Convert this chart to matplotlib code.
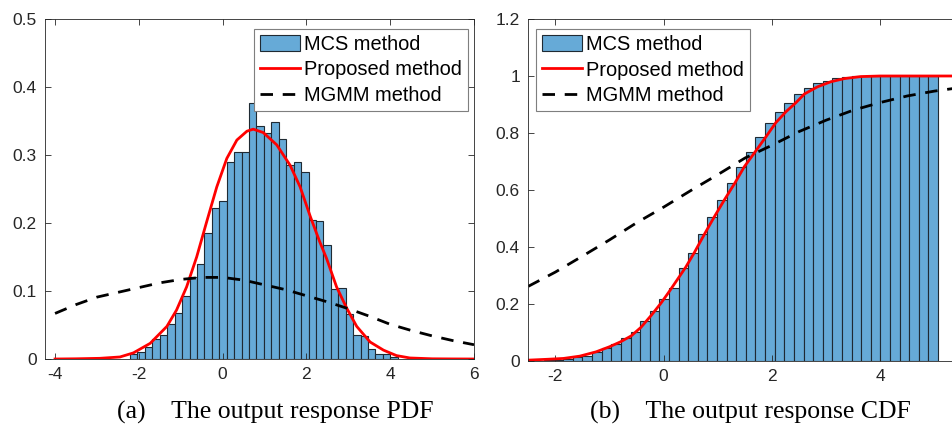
import numpy as np
import matplotlib.pyplot as plt

plt.rcParams['font.family'] = 'Liberation Sans'
plt.rcParams['axes.unicode_minus'] = False

# histogram bins shared by both panels
bin_start = -2.21
bin_width = 0.1775

# MCS histogram, pdf normalisation (one value per bin)
pdf_mcs = [0.008, 0.010, 0.018, 0.029, 0.036, 0.052, 0.068, 0.093, 0.120, 0.139,
           0.186, 0.222, 0.232, 0.290, 0.305, 0.304, 0.377, 0.342, 0.333, 0.348,
           0.323, 0.286, 0.289, 0.275, 0.204, 0.203, 0.168, 0.103, 0.105, 0.066,
           0.036, 0.034, 0.014, 0.008, 0.007, 0.003]

# MCS histogram, cdf normalisation
cdf_mcs = [0.002, 0.004, 0.008, 0.013, 0.018, 0.030, 0.044, 0.058, 0.080, 0.103,
           0.140, 0.177, 0.217, 0.257, 0.325, 0.378, 0.444, 0.506, 0.565, 0.626,
           0.682, 0.734, 0.787, 0.836, 0.875, 0.906, 0.936, 0.957, 0.974, 0.984,
           0.992, 0.997, 0.999, 1.0, 1.0, 1.0, 1.0, 1.0, 1.0, 1.0, 1.0]

# proposed method pdf
pdf_prop_x = [-4, -3.5, -2.93, -2.45, -2.13, -1.73, -1.33, -1.10, -0.86, -0.62,
              -0.38, -0.14, 0.10, 0.34, 0.58, 0.73, 0.97, 1.29, 1.61, 1.85,
              2.09, 2.32, 2.48, 2.72, 2.96, 3.20, 3.52, 3.84, 4.15, 4.47,
              5.0, 5.5, 6]
pdf_prop_y = [0, 0.0003, 0.001, 0.003, 0.009, 0.023, 0.048, 0.072, 0.106, 0.150,
              0.202, 0.253, 0.295, 0.322, 0.335, 0.338, 0.333, 0.315, 0.285, 0.253,
              0.210, 0.172, 0.148, 0.106, 0.075, 0.048, 0.025, 0.013, 0.005, 0.0015,
              0.0003, 0.0001, 0]

# MGMM method pdf
pdf_mgmm_x = [-4, -3.5, -3, -2.5, -2, -1.5, -1, -0.5, 0, 0.5, 1, 1.5, 2, 2.5,
              3, 3.5, 4, 4.5, 5, 5.5, 6]
pdf_mgmm_y = [0.067, 0.080, 0.091, 0.098, 0.105, 0.112, 0.117, 0.120, 0.120,
              0.116, 0.109, 0.102, 0.093, 0.084, 0.074, 0.063, 0.051, 0.042,
              0.034, 0.027, 0.021]

# proposed method cdf
cdf_prop_x = [-2.5, -2.15, -1.85, -1.55, -1.25, -1.0, -0.8, -0.6, -0.42, -0.23,
              -0.05, 0.1, 0.25, 0.41, 0.565, 0.75, 0.935, 1.12, 1.32, 1.49,
              1.69, 1.89, 2.07, 2.26, 2.44, 2.6, 2.84, 3.09, 3.34, 3.64,
              4.0, 4.5, 5.0, 5.5]
cdf_prop_y = [0.003, 0.006, 0.009, 0.017, 0.032, 0.050, 0.067, 0.088, 0.118, 0.160,
              0.203, 0.243, 0.285, 0.330, 0.380, 0.444, 0.506, 0.565, 0.626, 0.682,
              0.734, 0.787, 0.836, 0.875, 0.906, 0.937, 0.962, 0.980, 0.991, 0.998,
              1.0, 1.0, 1.0, 1.0]

# MGMM method cdf
cdf_mgmm_x = [-2.5, -2, -1.5, -1, -0.5, 0, 0.5, 1, 1.5, 2, 2.5, 3, 3.5, 4,
              4.5, 5, 5.5]
cdf_mgmm_y = [0.262, 0.312, 0.368, 0.425, 0.485, 0.540, 0.598, 0.654, 0.712,
              0.757, 0.805, 0.845, 0.880, 0.907, 0.930, 0.947, 0.960]

pdf_yticks = [0, 0.1, 0.2, 0.3, 0.4, 0.5]
pdf_yticklabels = ['0', '0.1', '0.2', '0.3', '0.4', '0.5']
pdf_xticks = [-4, -2, 0, 2, 4, 6]
cdf_yticks = [0, 0.2, 0.4, 0.6, 0.8, 1.0, 1.2]
cdf_yticklabels = ['0', '0.2', '0.4', '0.6', '0.8', '1', '1.2']
cdf_xticks = [-2, 0, 2, 4]

labels = ['MCS method', 'Proposed method', 'MGMM method']

bar_color = '#66AAD7'
axis_color = '#262626'


def draw_panel(ax, heights, px, py, mx, my):
    left = bin_start + bin_width * np.arange(len(heights))
    bars = ax.bar(left, heights, width=bin_width, align='edge', color=bar_color,
                  edgecolor='#1f2a33', linewidth=0.8)
    red, = ax.plot(px, py, color='red', lw=2.0)
    dash, = ax.plot(mx, my, color='black', lw=2.0, dashes=(4.5, 3.5))
    ax.tick_params(direction='in', top=True, right=True, length=4, width=0.6,
                   color=axis_color, labelcolor=axis_color, labelsize=12.5, pad=6)
    for s in ax.spines.values():
        s.set_color(axis_color)
        s.set_linewidth(0.6)
    return [bars, red, dash]


def add_legend(ax, handles, loc, anchor):
    leg = ax.legend(handles, labels, loc=loc, bbox_to_anchor=anchor,
                    fontsize=14.4, fancybox=False, edgecolor='#7f7f7f',
                    framealpha=1, handlelength=2.0, handleheight=0.85,
                    handletextpad=0.2, labelspacing=0.33, borderpad=0.3,
                    borderaxespad=0)
    leg.get_frame().set_linewidth(0.8)


fig = plt.figure(figsize=(9.53, 4.25), dpi=100)

ax1 = fig.add_axes([45 / 953, 66 / 425, 429 / 953, 340 / 425])
h1 = draw_panel(ax1, pdf_mcs, pdf_prop_x, pdf_prop_y, pdf_mgmm_x, pdf_mgmm_y)
ax1.set_xlim(-4.24, 6)
ax1.set_ylim(0, 0.5)
ax1.set_xticks(pdf_xticks)
ax1.set_yticks(pdf_yticks)
ax1.set_yticklabels(pdf_yticklabels)
add_legend(ax1, h1, 'upper right', (0.986, 0.971))

ax2 = fig.add_axes([528.3 / 953, 64 / 425, 433.2 / 953, 342 / 425])
h2 = draw_panel(ax2, cdf_mcs, cdf_prop_x, cdf_prop_y, cdf_mgmm_x, cdf_mgmm_y)
ax2.set_xlim(-2.5, 5.5)
ax2.set_ylim(0, 1.2)
ax2.set_xticks(cdf_xticks)
ax2.set_yticks(cdf_yticks)
ax2.set_yticklabels(cdf_yticklabels)
add_legend(ax2, h2, 'upper left', (0.018, 0.971))

fig.text(275 / 953, 1 - 412 / 425, '(a)    The output response PDF',
         family='Liberation Serif', fontsize=18.5, ha='center', va='center')
fig.text(750 / 953, 1 - 412 / 425, '(b)    The output response CDF',
         family='Liberation Serif', fontsize=18.5, ha='center', va='center')

fig.savefig('out.png', dpi=100)
